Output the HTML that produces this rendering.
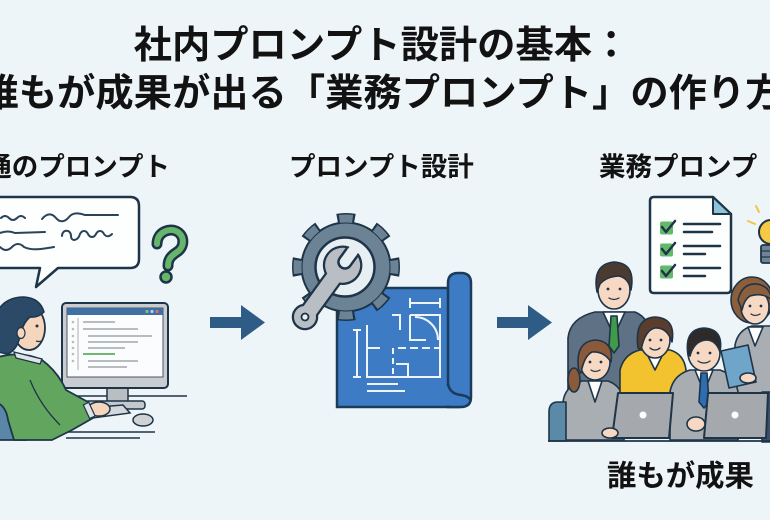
<!DOCTYPE html>
<html><head><meta charset="utf-8"><style>
html,body{margin:0;padding:0;background:#ecf4f7;}
svg{display:block}
</style></head><body>
<svg width="770" height="520" viewBox="0 0 770 520" xmlns="http://www.w3.org/2000/svg">
<rect x="0" y="0" width="770" height="520" fill="#edf5f8"/>

<!-- Titles -->
<g font-family="'Liberation Sans','Noto Sans CJK JP',sans-serif" font-weight="700" fill="#121212">
<text x="382" y="58" font-size="38.3" text-anchor="middle">社内プロンプト設計の基本：</text>
<text x="382" y="106" font-size="38.3" text-anchor="middle">誰もが成果が出る「業務プロンプト」の作り方</text>
<text x="170" y="176" font-size="26.5" text-anchor="end">普通のプロンプト</text>
<text x="289" y="176" font-size="26.5">プロンプト設計</text>
<text x="599" y="176" font-size="26.5">業務プロンプ</text>
<text x="607" y="486" font-size="29.4">誰もが成果</text>
</g>

<!-- ============ LEFT SCENE ============ -->
<path d="M -10 197 H 130 Q 139 197 139 206 V 259 Q 139 268 130 268 H 58 L 36 287 L 40 268 H -10 Z" fill="#fdfefe" stroke="#1e3448" stroke-width="2.5" stroke-linejoin="round"/>
<g fill="none" stroke="#2a4358" stroke-width="2" stroke-linecap="round">
<path d="M 1 218 q 4 -4 8 0 t 8 0 t 8 0"/>
<path d="M 42 219 c 5 -6 10 -6 14 -1 s 9 4 13 -1 s 10 -4 16 -2 L 118 215"/>
<path d="M 0 233 q 8 -3 15 0 L 45 232"/>
<path d="M 62 236 c 0 -7 9 -7 9 0 c 0 6 7 5 9 -2 c 2 -4 6 -4 8 0 c 2 4 6 4 8 0 c 2 -4 6 -4 8 0 c 2 3 5 3 8 0"/>
<path d="M 0 247 c 4 4 8 4 12 0 c 4 -4 8 -4 12 0 c 8 4 18 2 30 0"/>
</g>
<path d="M 157 244 C 157 232 169 228 176 231 C 185 235 185 247 177 252 C 171 256 168 259 168 266" fill="none" stroke="#1e3448" stroke-width="11" stroke-linecap="round"/>
<path d="M 157 244 C 157 232 169 228 176 231 C 185 235 185 247 177 252 C 171 256 168 259 168 266" fill="none" stroke="#66b56a" stroke-width="6" stroke-linecap="round"/>
<circle cx="166" cy="277" r="5.5" fill="#66b56a" stroke="#1e3448" stroke-width="2.5"/>

<g stroke="#1e3448" stroke-width="1.5" fill="none">
<line x1="55" y1="396" x2="187" y2="396"/>
<line x1="58" y1="432" x2="155" y2="432"/>
<line x1="66" y1="438" x2="140" y2="438"/>
</g>
<rect x="107" y="386" width="21" height="16" fill="#b9bec2" stroke="#1e3448" stroke-width="1.5"/>
<rect x="85" y="401" width="60" height="8" rx="3" fill="#c3c8cc" stroke="#1e3448" stroke-width="1.5"/>
<rect x="62" y="303" width="106" height="85" rx="4" fill="#c9cdd1" stroke="#1e3448" stroke-width="2"/>
<rect x="67" y="308" width="96" height="69" fill="#fbfcfd" stroke="#4a5866" stroke-width="1"/>
<rect x="67" y="308" width="96" height="7" fill="#3f6fa3"/>
<circle cx="147" cy="311.5" r="1.6" fill="#7fc27a"/><circle cx="152" cy="311.5" r="1.6" fill="#a9d6ee"/><circle cx="157" cy="311.5" r="1.6" fill="#e07060"/>
<g stroke="#b8bcbf" stroke-width="2">
<line x1="78" y1="318" x2="78" y2="370" stroke-width="1.2"/>
<line x1="83" y1="322" x2="115" y2="322"/>
<line x1="83" y1="329" x2="138" y2="329"/>
<line x1="88" y1="336" x2="152" y2="336"/>
<line x1="88" y1="342" x2="138" y2="342"/>
<line x1="88" y1="348" x2="125" y2="348"/>
<line x1="83" y1="354" x2="115" y2="354" stroke="#6fb86d"/>
<line x1="88" y1="361" x2="138" y2="361"/>
<line x1="88" y1="367" x2="127" y2="367"/>
</g>
<g fill="#b8bcbf"><circle cx="73" cy="322" r="1.3"/><circle cx="73" cy="329" r="1.3"/><circle cx="73" cy="336" r="1.3"/><circle cx="73" cy="342" r="1.3"/><circle cx="73" cy="348" r="1.3"/><circle cx="73" cy="354" r="1.3"/><circle cx="73" cy="361" r="1.3"/></g>
<path d="M 62 410 L 123 405 L 130 413 L 70 421 Z" fill="#d5d8db" stroke="#1e3448" stroke-width="1.5"/>
<ellipse cx="143" cy="420" rx="10" ry="6" fill="#cfd3d6" stroke="#1e3448" stroke-width="1.5"/>
<path d="M -5 400 Q 15 398 22 410 L 26 440 H -5 Z" fill="#5a87a8" stroke="#1e3448" stroke-width="1.8"/>
<path d="M -5 358 Q 20 350 42 360 Q 58 372 66 390 L 88 402 L 93 418 L 72 430 L 52 440 H 14 L 8 420 Q 6 405 -5 402 Z" fill="#62a55e" stroke="#1e3448" stroke-width="1.8" stroke-linejoin="round"/>
<path d="M 30 380 Q 40 405 60 425" fill="none" stroke="#1e3448" stroke-width="1.3"/>
<path d="M 14 352 L 42 359 L 40 364 L 16 358 Z" fill="#dfe4e6" stroke="#1e3448" stroke-width="1.3"/>
<ellipse cx="99" cy="409" rx="11" ry="7" fill="#f6d5bd" stroke="#1e3448" stroke-width="1.5"/>
<rect x="86" y="403" width="6" height="15" fill="#dfe4e6" stroke="#1e3448" stroke-width="1.2" transform="rotate(-25 89 410)"/>
<ellipse cx="29" cy="328" rx="16" ry="22" fill="#f6d5bd" stroke="#1e3448" stroke-width="1.8"/>
<path d="M -3 352 L -3 312 Q 5 297 24 297 Q 40 298 44 312 Q 38 318 30 317 Q 24 322 22 330 L 19 340 Q 16 350 8 354 Z" fill="#2a4a68" stroke="#1e3448" stroke-width="1.5"/>
<ellipse cx="21" cy="333" rx="4" ry="5.5" fill="#f6d5bd" stroke="#1e3448" stroke-width="1.2"/>
<circle cx="37" cy="326" r="1.5" fill="#1e3448"/>
<path d="M 36 341 q 3 1 6 0" stroke="#1e3448" stroke-width="1.2" fill="none"/>

<polygon points="210,317 241,317 241,305 265,322.5 241,340 241,328 210,328" fill="#2f5c86"/>
<polygon points="497,317 528,317 528,305 552,322.5 528,340 528,328 497,328" fill="#2f5c86"/>

<!-- ============ MIDDLE SCENE ============ -->
<rect x="337" y="288" width="122" height="119" fill="#3d7cc4" stroke="#1c3a5a" stroke-width="2.5"/>
<path d="M 448 407 V 283 Q 448 273 458 273 H 461 Q 471 273 471 283 V 397 Q 471 407 461 407 Z" fill="#3d7cc4" stroke="#1c3a5a" stroke-width="2.5"/>
<rect x="446" y="386" width="12" height="19.5" fill="#3d7cc4"/>
<path d="M 448 384 Q 450 394 461 395 Q 469 396 471 401" fill="none" stroke="#1c3a5a" stroke-width="2.5"/>
<g stroke="#eef4fa" stroke-width="2" fill="none">
<line x1="410" y1="303" x2="440" y2="303"/><line x1="410" y1="298" x2="410" y2="308"/><line x1="440" y1="298" x2="440" y2="308"/>
<line x1="357" y1="330" x2="357" y2="377"/><line x1="353" y1="330" x2="361" y2="330"/><line x1="353" y1="377" x2="361" y2="377"/>
<path d="M 392 315 H 400 V 330"/>
<path d="M 410 315 H 440 V 377 H 367 V 325"/>
<path d="M 367 348 H 380"/>
<path d="M 410 315 V 340 H 426"/>
<path d="M 415 317 A 23 23 0 0 1 438 340"/>
<line x1="398" y1="348" x2="440" y2="348" stroke-dasharray="8 4"/>
<line x1="393" y1="348" x2="393" y2="376" stroke-dasharray="6 4"/>
<path d="M 396 364 H 408 V 377"/>
<line x1="367" y1="384" x2="398" y2="384"/>
<line x1="367" y1="391" x2="405" y2="391"/>
</g>
<circle cx="346" cy="267" r="49" fill="none" stroke="#1e3448" stroke-width="10" pathLength="80" stroke-dasharray="4.6 5.4" stroke-dashoffset="2.3"/>
<circle cx="346" cy="267" r="45.5" fill="#1e3448"/>
<circle cx="346" cy="267" r="48.5" fill="none" stroke="#6b8394" stroke-width="8" pathLength="80" stroke-dasharray="3.5 6.5" stroke-dashoffset="1.75"/>
<circle cx="346" cy="267" r="43.5" fill="#6b8394"/>
<circle cx="345" cy="267" r="29.5" fill="#e8eff3" stroke="#1e3448" stroke-width="2.5"/>
<g transform="translate(305 317) rotate(-54)">
<g fill="#1e3448" stroke="#1e3448" stroke-width="4.5">
<circle cx="0" cy="0" r="11"/><rect x="0" y="-7.5" width="60" height="15"/><circle cx="64" cy="0" r="17.5"/>
</g>
<g fill="#b8bec3">
<circle cx="0" cy="0" r="11"/><rect x="0" y="-7.5" width="60" height="15"/><circle cx="64" cy="0" r="17.5"/>
</g>
<circle cx="0" cy="0" r="3.5" fill="#e8eff3" stroke="#1e3448" stroke-width="1.8"/>
<path d="M 80.5 -6.5 H 68 A 6.5 6.5 0 0 0 68 6.5 H 80.5" fill="#e8eff3" stroke="#1e3448" stroke-width="2.5"/>
<rect x="79" y="-5.2" width="6" height="10.4" fill="#e8eff3"/>
</g>

<!-- ============ RIGHT SCENE ============ -->
<path d="M 654 197 H 713 L 731 214 V 289 Q 731 293 727 293 H 654 Q 650 293 650 289 V 201 Q 650 197 654 197 Z" fill="#fdfefe" stroke="#1e3448" stroke-width="2.5" stroke-linejoin="round"/>
<path d="M 713 197 V 214 H 731 Z" fill="#8fc4d8" stroke="#1e3448" stroke-width="2" stroke-linejoin="round"/>
<g fill="#63b86a"><rect x="660" y="221.5" width="13" height="13" rx="2"/><rect x="660" y="243.5" width="13" height="13" rx="2"/><rect x="660" y="265.5" width="13" height="13" rx="2"/></g>
<g fill="none" stroke="#1e3448" stroke-width="2.5" stroke-linecap="round" stroke-linejoin="round">
<path d="M 662 227 L 666 232 L 675 221"/><path d="M 662 249 L 666 254 L 675 243"/><path d="M 662 271 L 666 276 L 675 265"/>
<line x1="684" y1="224" x2="720" y2="224"/><line x1="684" y1="232" x2="712" y2="232"/>
<line x1="684" y1="246" x2="720" y2="246"/><line x1="684" y1="254" x2="705" y2="254"/>
<line x1="684" y1="268" x2="720" y2="268"/><line x1="684" y1="276" x2="705" y2="276"/>
</g>
<g stroke="#f0c64a" stroke-width="2" stroke-linecap="round"><line x1="756" y1="206" x2="759" y2="212"/><line x1="748" y1="221" x2="755" y2="224"/></g>
<circle cx="771" cy="232" r="12" fill="#f6c945" stroke="#1e3448" stroke-width="2"/>
<rect x="761" y="245" width="14" height="18" rx="2" fill="#6f8597" stroke="#1e3448" stroke-width="1.8"/>
<g stroke="#1e3448" stroke-width="1.2"><line x1="761" y1="251" x2="770" y2="251"/><line x1="761" y1="257" x2="770" y2="257"/></g>

<g stroke="#1e3448" stroke-width="1.6" stroke-linejoin="round">
<path d="M 735 405 V 345 Q 738 330 752 326 H 772 V 405 Z" fill="#a9aeb4"/>
<path d="M 748 327 L 755 346 L 763 327 Z" fill="#fdfefe"/>
<ellipse cx="752" cy="300" rx="21" ry="23" fill="#8b5e3c"/>
<ellipse cx="755" cy="307" rx="14" ry="17" fill="#f7d8c2"/>
<path d="M 738 300 Q 742 283 757 284 Q 770 286 772 300 Q 762 292 750 296 Q 744 300 742 310 Z" fill="#8b5e3c"/>
<path d="M 568 420 V 338 Q 570 318 595 312 H 635 Q 650 318 652 340 V 400 H 568 Z" fill="#5f7184"/>
<path d="M 603 312 L 614 336 L 625 312 Z" fill="#fdfefe"/>
<path d="M 611 316 L 617 316 L 619 346 L 614 353 L 609 346 Z" fill="#3f9b4a"/>
<ellipse cx="614" cy="290" rx="16" ry="19" fill="#f7d8c2"/>
<path d="M 597 292 Q 592 264 614 262 Q 636 263 631 290 Q 628 277 618 276 Q 606 277 600 284 Z" fill="#4b3a30"/>
<path d="M 563 440 V 402 Q 565 386 582 381 H 608 Q 622 386 624 402 V 440 Z" fill="#a9aeb3"/>
<path d="M 588 381 L 595 402 L 602 381 Z" fill="#fdfefe"/>
<ellipse cx="574" cy="380" rx="6" ry="12" fill="#8a5a3a"/>
<ellipse cx="595" cy="362" rx="15" ry="18" fill="#f7d8c2"/>
<path d="M 579 372 Q 574 342 595 340 Q 614 341 611 362 Q 604 351 592 352 Q 584 356 581 373 Z" fill="#8a5a3a"/>
<path d="M 620 402 V 370 Q 624 354 640 350 H 670 Q 684 354 686 370 V 402 Z" fill="#f2c22f"/>
<path d="M 645 350 L 655 370 L 665 350 Z" fill="#fdfefe"/>
<ellipse cx="655" cy="340" rx="15" ry="18" fill="#f7d8c2"/>
<path d="M 638 348 Q 634 318 655 317 Q 676 318 672 342 Q 667 327 655 328 Q 645 330 641 350 Z" fill="#5a3d2c"/>
<path d="M 670 440 V 392 Q 673 375 690 370 H 720 Q 735 375 738 392 V 440 Z" fill="#a8adb2"/>
<path d="M 695 370 L 704 392 L 713 370 Z" fill="#fdfefe"/>
<path d="M 701 373 H 707 L 709 402 L 704 408 L 699 402 Z" fill="#2f6db3"/>
<ellipse cx="704" cy="353" rx="16" ry="18" fill="#f7d8c2"/>
<path d="M 688 355 Q 684 329 704 328 Q 724 329 720 352 Q 716 340 706 340 Q 694 341 690 356 Z" fill="#2e2a2a"/>
<polygon points="721,351 748,345 756,382 729,388" fill="#6ea5c8"/>
<ellipse cx="748" cy="378" rx="8" ry="5" fill="#f7d8c2"/>
<rect x="762" y="392" width="12" height="50" fill="#3b4f6a"/>
<path d="M 549 441 V 412 Q 549 402 558 402 H 566 V 441 Z" fill="#5a8aa8"/>
<polygon points="618,393 673,393 669,438 612,438" fill="#a5a9ae" stroke-width="2"/>
<polygon points="708,393 768,393 766,438 704,438" fill="#a5a9ae" stroke-width="2"/>
<ellipse cx="610" cy="433" rx="8" ry="5" fill="#f7d8c2"/>
<ellipse cx="696" cy="424" rx="9" ry="7" fill="#f7d8c2"/>
</g>
<circle cx="643" cy="415" r="3.5" fill="#fdfefe"/>
<circle cx="735" cy="415" r="3.5" fill="#fdfefe"/>
<line x1="548" y1="441" x2="770" y2="441" stroke="#1e3448" stroke-width="1.8"/>
<g fill="#1e3448">
<circle cx="608" cy="289" r="1.4"/><circle cx="620" cy="289" r="1.4"/>
<circle cx="590" cy="362" r="1.4"/><circle cx="601" cy="362" r="1.4"/>
<circle cx="650" cy="340" r="1.4"/><circle cx="661" cy="340" r="1.4"/>
<circle cx="698" cy="353" r="1.4"/><circle cx="710" cy="353" r="1.4"/>
<circle cx="750" cy="306" r="1.4"/><circle cx="761" cy="306" r="1.4"/>
</g>
<g fill="none" stroke="#1e3448" stroke-width="1.3" stroke-linecap="round">
<path d="M 609 298 q 5 3 10 0"/><path d="M 591 370 q 4 3 9 0"/><path d="M 650 348 q 5 4 10 0"/><path d="M 698 361 q 6 4 12 0"/><path d="M 751 314 q 4 3 9 0"/>
</g>
</svg>
</body></html>
